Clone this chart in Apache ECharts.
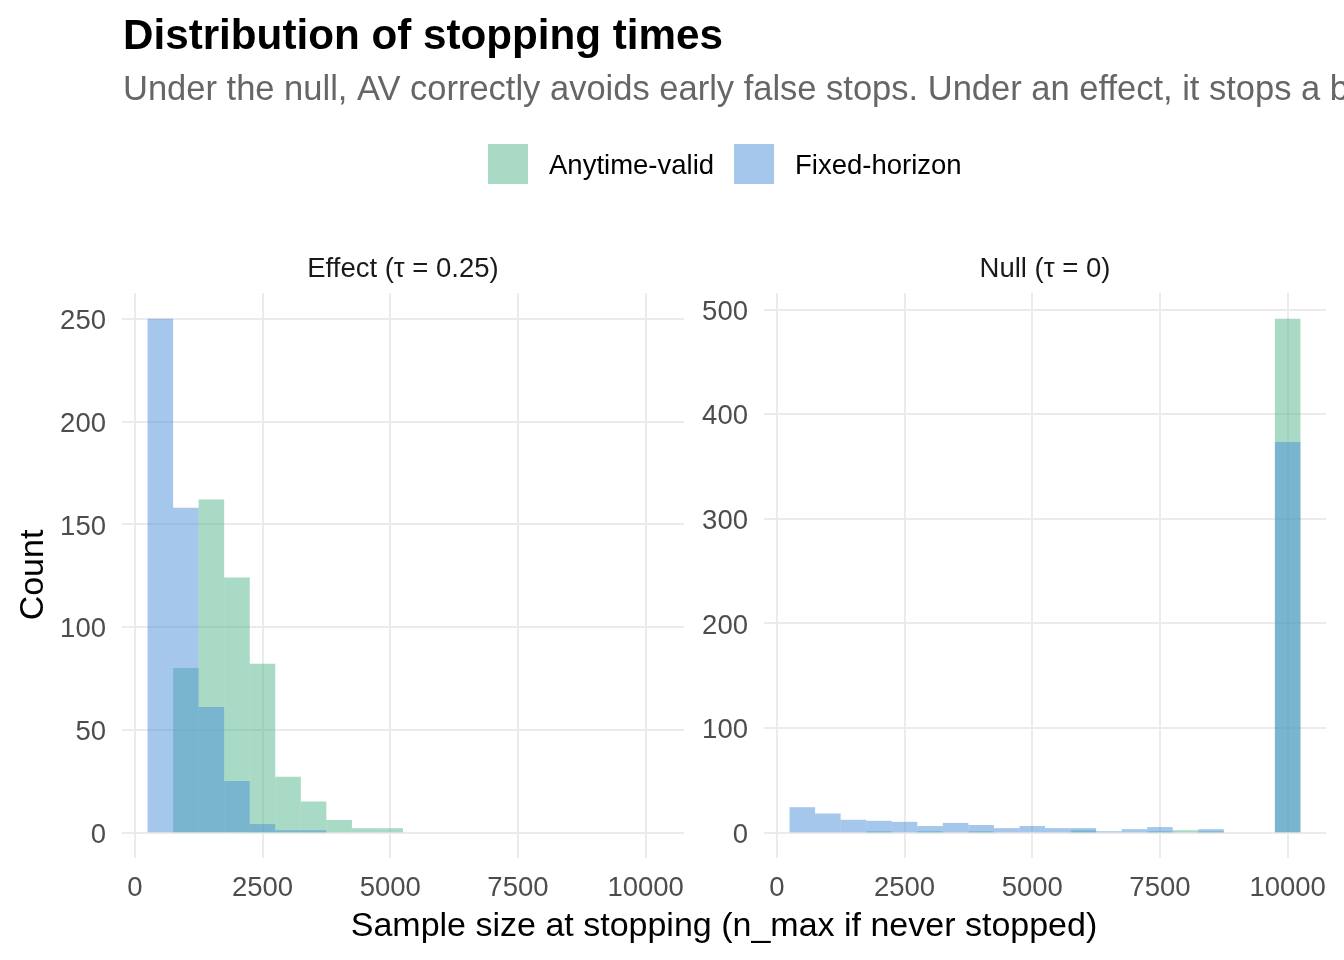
<!DOCTYPE html>
<html>
<head>
<meta charset="utf-8">
<script src="https://cdn.jsdelivr.net/npm/echarts@6/dist/echarts.min.js"></script>
<style>
html,body{margin:0;padding:0;background:#fff;}
#chart{width:1344px;height:960px;}
</style>
</head>
<body>
<div id="chart"></div>
<script>
// ---- data ----
const titleText = 'Distribution of stopping times';
const subtitleText = 'Under the null, AV correctly avoids early false stops. Under an effect, it stops a bit later than fixed-horizon peeking.';
const seriesNames = ['Anytime-valid', 'Fixed-horizon'];
const panelNames = ['Effect (τ = 0.25)', 'Null (τ = 0)'];
const binLow  = [250, 750, 1250, 1750, 2250, 2750, 3250, 3750, 4250, 4750, 5250, 5750, 6250, 6750, 7250, 7750, 8250, 8750, 9250, 9750];
const binHigh = [750, 1250, 1750, 2250, 2750, 3250, 3750, 4250, 4750, 5250, 5750, 6250, 6750, 7250, 7750, 8250, 8750, 9250, 9750, 10250];
// Effect panel
const effectAnytime = [0, 80, 162, 124, 82, 27, 15, 6, 2, 2, 0, 0, 0, 0, 0, 0, 0, 0, 0, 0];
const effectFixed   = [250, 158, 61, 25, 4, 1, 1, 0, 0, 0, 0, 0, 0, 0, 0, 0, 0, 0, 0, 0];
// Null panel
const nullAnytime = [0, 0, 0, 1, 0, 1, 0, 1, 0, 0, 0, 2, 0, 0, 1, 2, 1, 0, 0, 491];
const nullFixed   = [24, 18, 12, 11, 10, 6, 9, 7, 4, 6, 4, 4, 1, 3, 5, 0, 3, 0, 0, 373];
// ticks
const xTicks = [0, 2500, 5000, 7500, 10000];
const yTicksEffect = [0, 50, 100, 150, 200, 250];
const yTicksNull = [0, 100, 200, 300, 400, 500];

// ---- styling ----
const colAnytime = 'rgba(81,181,139,0.5)';
const colFixed = 'rgba(73,143,215,0.5)';
const gridCol = '#ebebeb';
const FONT = 'Liberation Sans, Arial, sans-serif';

function toRows(counts){
  return counts.map((c, i) => [binLow[i], binHigh[i], c]);
}
function renderBin(params, api){
  const x0 = api.value(0), x1 = api.value(1), c = api.value(2);
  const p0 = api.coord([x0, 0]);
  const p1 = api.coord([x1, c]);
  return {
    type: 'rect',
    shape: {x: p0[0], y: p1[1], width: p1[0] - p0[0], height: p0[1] - p1[1]},
    style: api.style()
  };
}

const chart = echarts.init(document.getElementById('chart'), null, {renderer: 'canvas'});

function xAxisDef(gi){
  return {
    type: 'value', gridIndex: gi, min: -250, max: 10750,
    axisLine: {show: false},
    axisTick: {show: false, customValues: xTicks},
    axisLabel: {customValues: xTicks, color: '#4d4d4d', fontSize: 27.5, fontFamily: FONT, margin: 16,
      formatter: v => String(v)},
    splitLine: {show: true, lineStyle: {color: gridCol, width: 2}}
  };
}
function yAxisDef(gi, min, max, ticks){
  return {
    type: 'value', gridIndex: gi, min: min, max: max,
    axisLine: {show: false},
    axisTick: {show: false, customValues: ticks},
    axisLabel: {customValues: ticks, color: '#4d4d4d', fontSize: 27.5, fontFamily: FONT, margin: 16,
      verticalAlign: 'top', lineHeight: 6, formatter: v => String(v)},
    splitLine: {show: true, lineStyle: {color: gridCol, width: 2}}
  };
}
function binSeries(name, gi, counts, color){
  return {
    type: 'custom', name: name, xAxisIndex: gi, yAxisIndex: gi,
    renderItem: renderBin,
    encode: {x: [0, 1], y: 2},
    itemStyle: {color: color},
    data: toRows(counts)
  };
}

const effectMax = Math.max(...effectAnytime, ...effectFixed);
const nullMax = Math.max(...nullAnytime, ...nullFixed);

chart.setOption({
  animation: false,
  backgroundColor: '#ffffff',
  textStyle: {fontFamily: FONT},
  grid: [
    {left: 122, top: 293, width: 562, height: 565},
    {left: 764, top: 293, width: 562, height: 565}
  ],
  xAxis: [xAxisDef(0), xAxisDef(1)],
  yAxis: [
    yAxisDef(0, -effectMax * 0.05, effectMax * 1.05, yTicksEffect),
    yAxisDef(1, -nullMax * 0.05, nullMax * 1.05, yTicksNull)
  ],
  legend: {
    left: 488, top: 144, padding: 0,
    itemWidth: 40, itemHeight: 40, itemGap: 20,
    data: [{name: seriesNames[0], icon: 'rect'}, {name: seriesNames[1], icon: 'rect'}],
    formatter: '{a|{name}}',
    textStyle: {fontSize: 27.5, color: '#000', fontFamily: FONT, padding: [0, 0, 0, 16],
      rich: {a: {fontSize: 27.5, color: '#000', fontFamily: FONT, padding: [5, 0, 0, 0]}}},
    selectedMode: false
  },
  series: [
    binSeries(seriesNames[0], 0, effectAnytime, colAnytime),
    binSeries(seriesNames[1], 0, effectFixed, colFixed),
    binSeries(seriesNames[0], 1, nullAnytime, colAnytime),
    binSeries(seriesNames[1], 1, nullFixed, colFixed)
  ],
  graphic: [
    {type: 'text', x: 123, y: 37, style: {text: titleText, font: 'bold 42.2px ' + FONT, fill: '#000', verticalAlign: 'middle', align: 'left'}},
    {type: 'text', x: 123, y: 90, style: {text: subtitleText, font: '34.5px ' + FONT, fill: '#666666', verticalAlign: 'middle', align: 'left'}},
    {type: 'text', x: 403, y: 269, style: {text: panelNames[0], font: '27.5px ' + FONT, fill: '#1a1a1a', verticalAlign: 'middle', align: 'center'}},
    {type: 'text', x: 1045, y: 269, style: {text: panelNames[1], font: '27.5px ' + FONT, fill: '#1a1a1a', verticalAlign: 'middle', align: 'center'}},
    {type: 'text', x: 724, y: 927, style: {text: 'Sample size at stopping (n_max if never stopped)', font: '34px ' + FONT, fill: '#000', verticalAlign: 'middle', align: 'center'}},
    {type: 'text', x: 34, y: 575, rotation: Math.PI / 2, style: {text: 'Count', font: '34px ' + FONT, fill: '#000', verticalAlign: 'middle', align: 'center'}}
  ]
});
</script>
</body>
</html>
